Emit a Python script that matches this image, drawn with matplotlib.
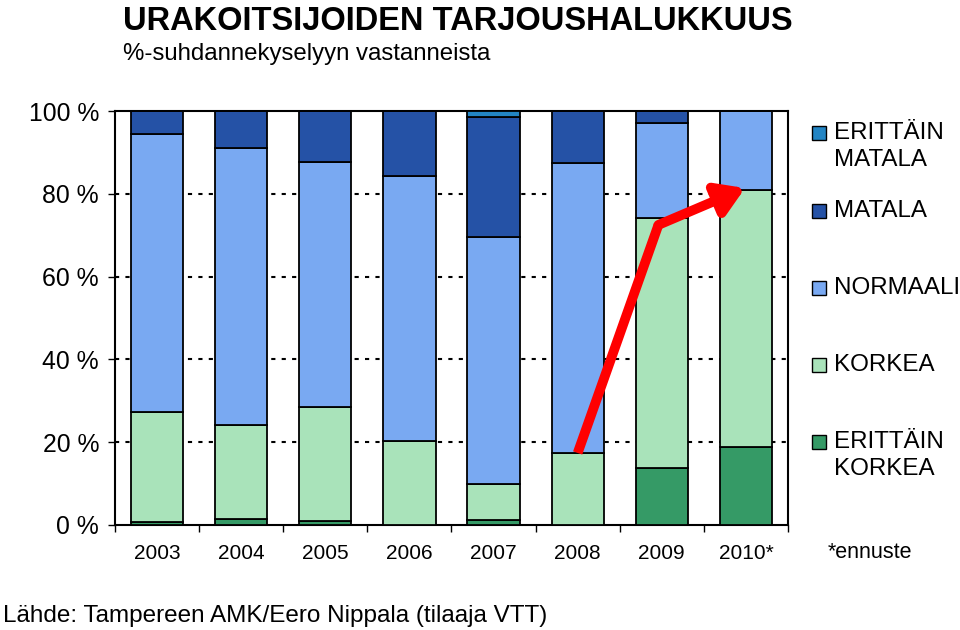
import matplotlib.pyplot as plt
import numpy as np
from matplotlib.patches import Rectangle

plt.rcParams['font.family'] = ['Liberation Sans', 'DejaVu Sans']

years = ["2003", "2004", "2005", "2006", "2007", "2008", "2009", "2010*"]

# shares in %, bottom to top
erittain_korkea = [0.7, 1.5, 1.0, 0.0, 1.2, 0.0, 13.8, 18.8]
korkea = [26.6, 22.7, 27.5, 20.3, 8.7, 17.4, 60.4, 62.1]
normaali = [67.1, 66.9, 59.2, 64.0, 59.7, 70.0, 22.9, 19.1]
matala = [5.6, 8.9, 12.3, 15.7, 29.0, 12.6, 2.9, 0.0]
erittain_matala = [0.0, 0.0, 0.0, 0.0, 1.4, 0.0, 0.0, 0.0]

series_names = ["ERITTÄIN\nKORKEA", "KORKEA", "NORMAALI", "MATALA", "ERITTÄIN\nMATALA"]
series_colors = ["#359a66", "#a9e3ba", "#79a9f2", "#2552a6", "#2385c4"]

# red trend arrow: (x index, % level)
arrow_x = [5.0, 5.96, 6.99]
arrow_y = [17.4, 72.5, 81.4]

fig = plt.figure(figsize=(9.6, 6.3), dpi=100)
ax = fig.add_axes([0.1198, 0.1667, 0.701, 0.657])

x = np.arange(len(years))
data = [erittain_korkea, korkea, normaali, matala, erittain_matala]
bottom = np.zeros(len(years))
for vals, col in zip(data, series_colors):
    vals = np.array(vals)
    ax.bar(x, vals, bottom=bottom, width=0.62, color=col, edgecolor="black",
           linewidth=1.3, zorder=3)
    bottom += vals

ax.set_xlim(-0.5, len(years) - 0.5)
ax.set_ylim(0, 100)
ax.set_yticks([0, 20, 40, 60, 80, 100])
ax.set_yticklabels(["0 %", "20 %", "40 %", "60 %", "80 %", "100 %"], fontsize=17.8)
ax.tick_params(axis="y", length=5, width=1, pad=6.5)
ax.set_xticks(x)
ax.set_xticklabels(years, fontsize=15)
ax.set_xticks(np.arange(-0.5, len(years), 1), minor=True)
ax.tick_params(axis="x", which="major", length=0, pad=14)
ax.tick_params(axis="x", which="minor", length=5, width=1)

for yv in [20, 40, 60, 80]:
    ax.axhline(yv, color="black", linestyle=(0, (2, 3)), linewidth=1.5, zorder=1)

for s in ax.spines.values():
    s.set_linewidth(1.5)

# arrow
ax.plot(arrow_x[:2], arrow_y[:2], color="red", linewidth=7, solid_capstyle="butt", zorder=5)
ax.annotate("", xy=(arrow_x[2], arrow_y[2]), xytext=(arrow_x[1], arrow_y[1]),
            arrowprops=dict(arrowstyle="-|>,head_length=1.6,head_width=1.0",
                            color="red", lw=7, shrinkA=0, shrinkB=0), zorder=5)

# legend drawn by hand
legend_y = [1 - v for v in [442/630, 365/630, 288/630, 211/630, 133/630]]
for name, col, ly in zip(series_names, series_colors, legend_y):
    fig.patches.append(Rectangle((812/960, ly - 7/630), 14/960, 14/630, transform=fig.transFigure,
                                 facecolor=col, edgecolor="black", linewidth=1))
    for i, line in enumerate(name.split("\n")):
        fig.text(834/960, ly - i * 27/630, line, fontsize=17.4, va="center", ha="left")

fig.text(828/960, 1 - 552/630, "*ennuste", fontsize=15.5, va="center", ha="left")

fig.text(123/960, 1 - 30/630, "URAKOITSIJOIDEN TARJOUSHALUKKUUS", fontsize=23.5,
         fontweight="bold", va="baseline", ha="left")
fig.text(123/960, 1 - 60/630, "%-suhdannekyselyyn vastanneista", fontsize=17.3,
         va="baseline", ha="left")
fig.text(3/960, 1 - 622/630, "Lähde: Tampereen AMK/Eero Nippala (tilaaja VTT)", fontsize=17.5,
         va="baseline", ha="left")

fig.savefig("out.png", dpi=100)
